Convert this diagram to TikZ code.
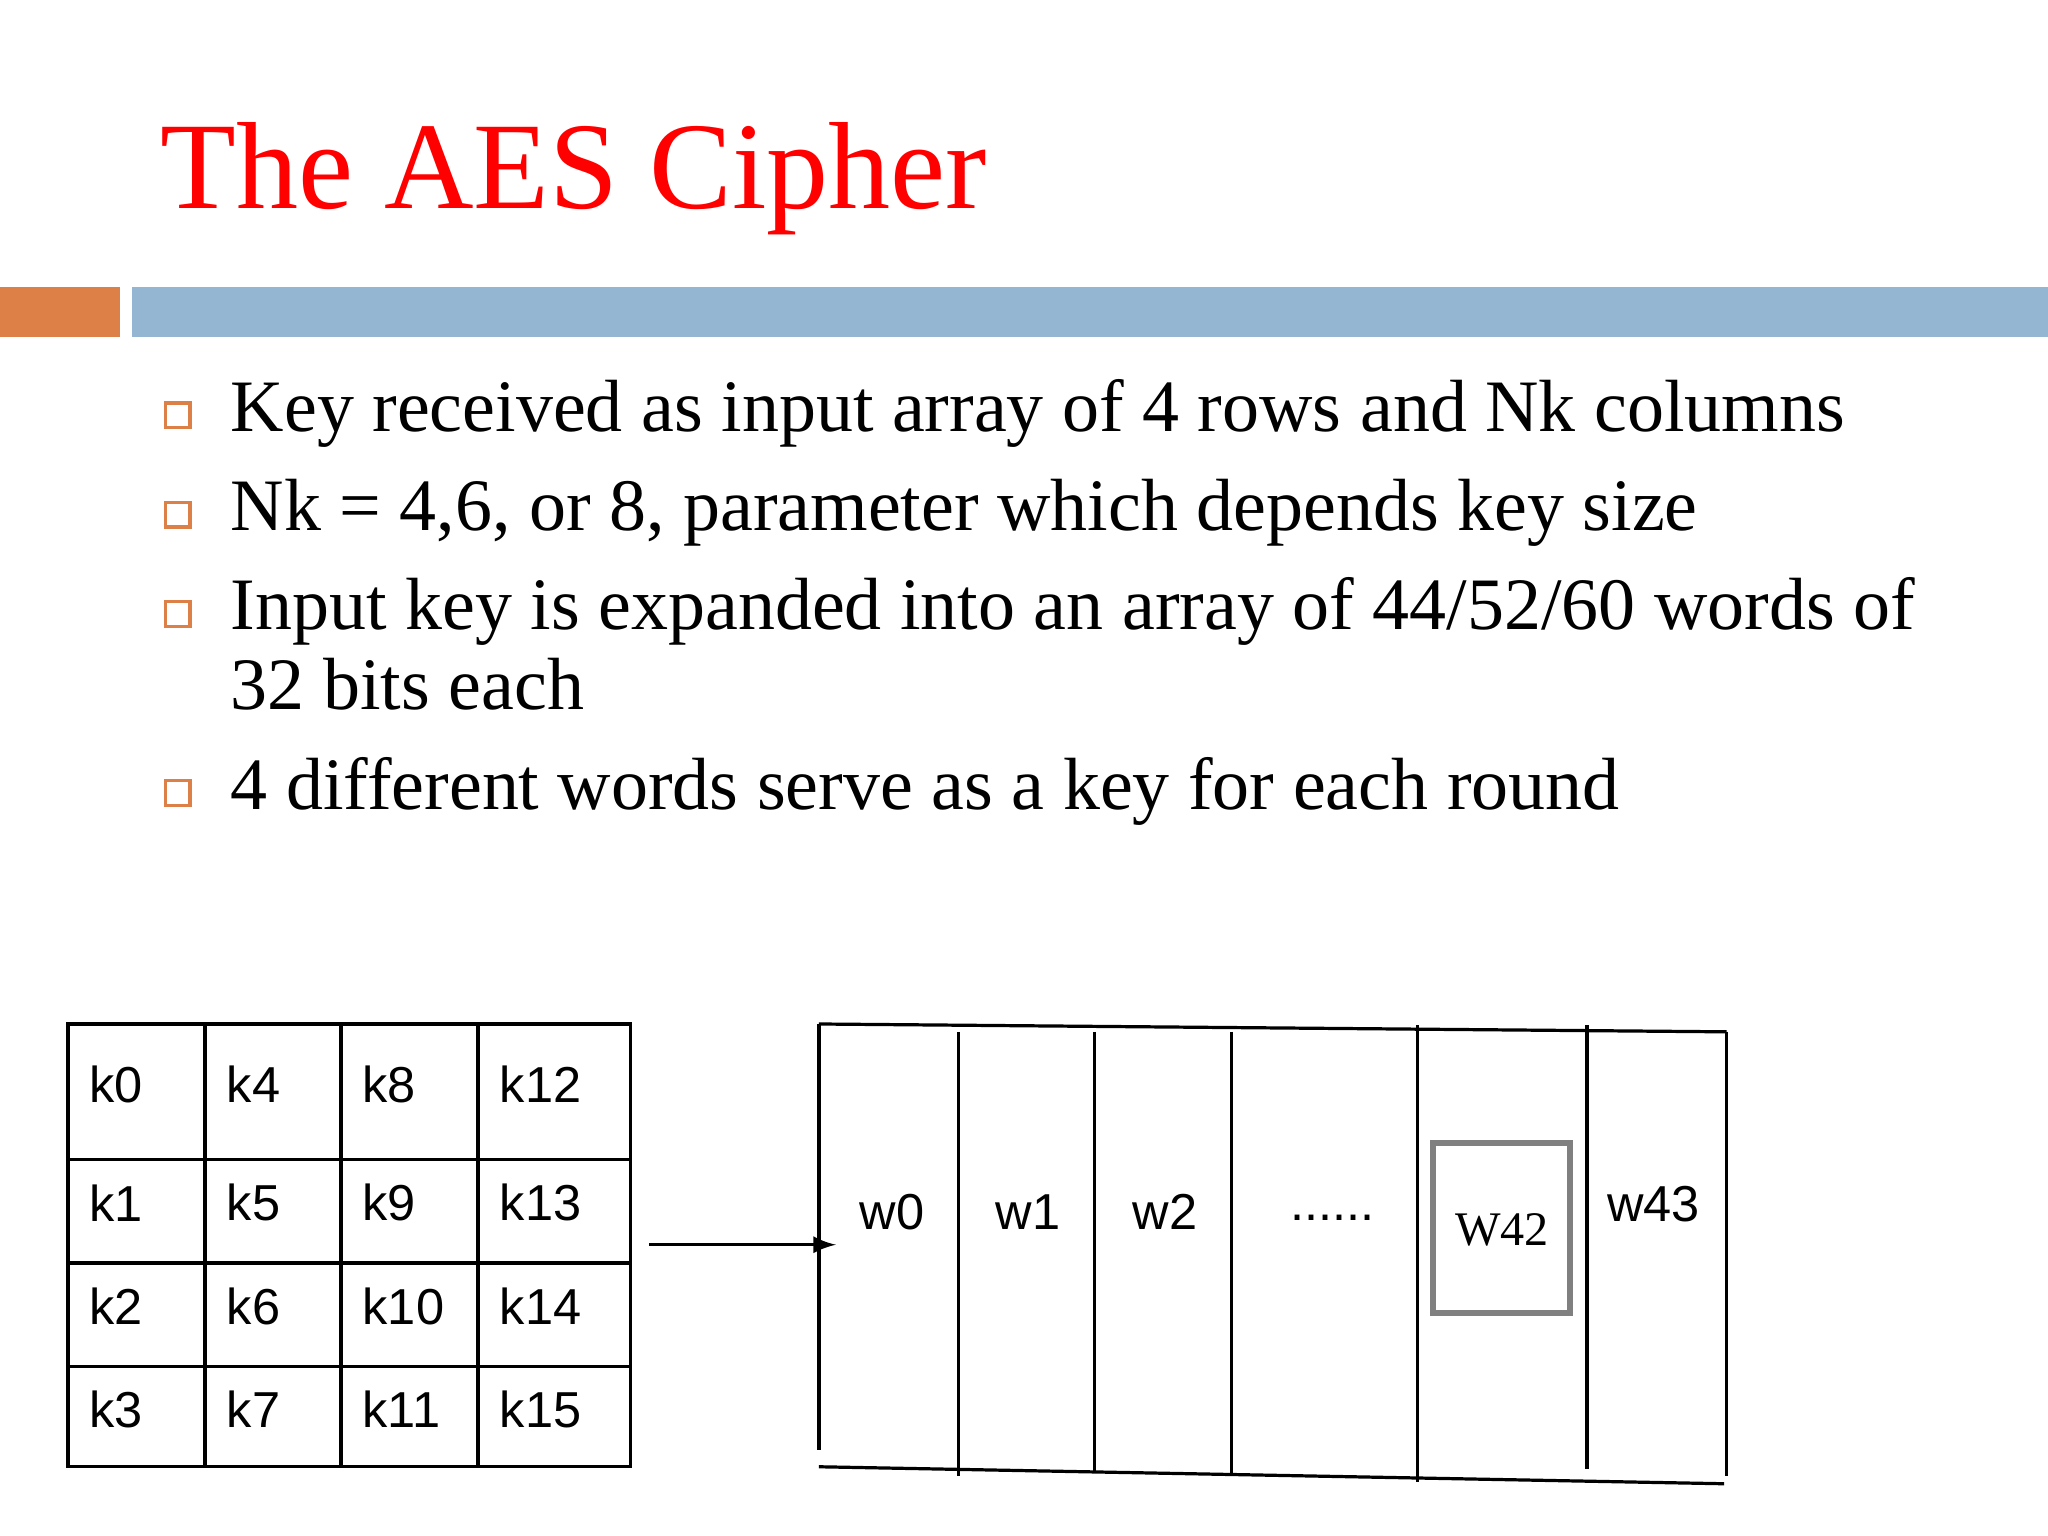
\documentclass[tikz,border=0pt]{standalone}
\usepackage{fontspec}
\setmainfont{Liberation Serif}
\newfontfamily\arialf{Liberation Sans}
\definecolor{barorange}{HTML}{DD8047}
\definecolor{barblue}{HTML}{94B6D2}
\definecolor{titlered}{HTML}{FF0000}
\begin{document}
\begin{tikzpicture}[x=0.01cm,y=-0.01cm,
  bul/.style={draw=barorange,line width=0.7pt,minimum size=0.19cm,inner sep=0pt},
  btxt/.style={anchor=base west,font=\fontsize{16.1}{19}\selectfont,inner sep=0pt},
  cell/.style={anchor=west,font=\arialf\fontsize{11}{13}\selectfont,inner sep=0pt},
  wl/.style={font=\arialf\fontsize{11}{13}\selectfont,inner sep=0pt},
  ln/.style={line width=0.7pt}]
\useasboundingbox (0,0) rectangle (1568,1176);
\node[anchor=base west,inner sep=0pt,text=titlered,font=\fontsize{27}{31}\selectfont] (title) at (122,160) {The AES Cipher};
\fill[barorange] (0,220) rectangle (92,258);
\fill[barblue] (101,220) rectangle (1568,258);
\node[bul] (b1) at (136,318) {};
\node[bul] (b2) at (136,394) {};
\node[bul] (b3) at (136,470) {};
\node[bul] (b4) at (136,607) {};
\node[btxt] (t1) at (176,330) {Key received as input array of 4 rows and Nk columns};
\node[btxt] (t2) at (176,406) {Nk = 4,6, or 8, parameter which depends key size};
\node[btxt] (t3) at (176,482) {Input key is expanded into an array of 44/52/60 words of};
\node[btxt] (t3b) at (176,543) {32 bits each};
\node[btxt] (t4) at (176,620) {4 different words serve as a key for each round};
% table
\draw[ln] (52,784) rectangle (483,1123);
\foreach \x in {157,261,366} \draw[ln] (\x,784) -- (\x,1123);
\foreach \y in {888,967,1046} \draw[ln] (52,\y) -- (483,\y);
\foreach \c/\x in {0/68,1/173,2/277,3/382}{
  \foreach \r/\y in {0/830,1/921,2/1000,3/1079}{
    \pgfmathtruncatemacro{\k}{\c*4+\r}
    \node[cell] (k\k) at (\x,\y) {k\k};
  }}
% arrow
\coordinate (as) at (497,953);
\coordinate (ae) at (640,953);
\draw[ln,-latex] (as) -- (ae);
% word array
\draw[ln] (627,784) -- (1322,790);
\draw[ln] (627,1123) -- (1320,1136);
\draw[ln] (627,784) -- (627,1110);
\draw[ln] (734,790) -- (734,1130);
\draw[ln] (838,790) -- (838,1128);
\draw[ln] (943,790) -- (943,1130);
\draw[ln] (1085,785) -- (1085,1135);
\draw[ln] (1215,785) -- (1215,1125);
\draw[ln] (1322,790) -- (1322,1130);
\draw[gray,line width=1.3pt] (1097,875) rectangle (1202,1005);
\node[wl] (w0) at (683,928) {w0};
\node[wl] (w1) at (787,928) {w1};
\node[wl] (w2) at (892,928) {w2};
\node[wl] (dots) at (1020,932) {......};
\node[inner sep=0pt,font=\fontsize{10.5}{13}\selectfont] (w42) at (1150,942) {W42};
\node[wl] (w43) at (1266,922) {w43};
\end{tikzpicture}
\end{document}
